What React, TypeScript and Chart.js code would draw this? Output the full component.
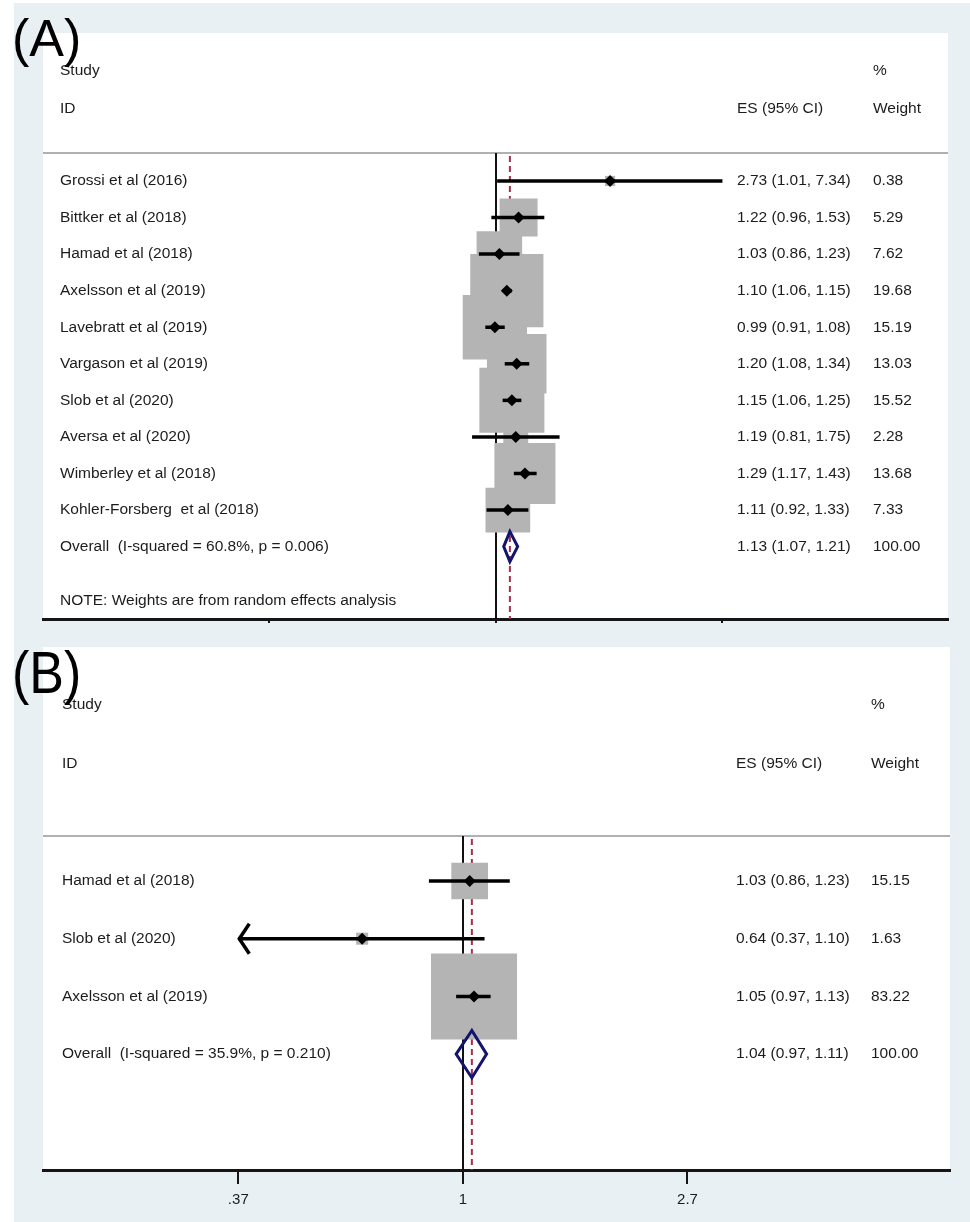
import React, { useEffect, useRef } from 'react';
import { Chart, registerables } from 'chart.js';
Chart.register(...registerables);

// ---------- Panel A data ----------
const studiesA = [
  'Grossi et al (2016)',
  'Bittker et al (2018)',
  'Hamad et al (2018)',
  'Axelsson et al (2019)',
  'Lavebratt et al (2019)',
  'Vargason et al (2019)',
  'Slob et al (2020)',
  'Aversa et al (2020)',
  'Wimberley et al (2018)',
  'Kohler-Forsberg  et al (2018)',
];
const esA = [2.73, 1.22, 1.03, 1.1, 0.99, 1.2, 1.15, 1.19, 1.29, 1.11];
const loA = [1.01, 0.96, 0.86, 1.06, 0.91, 1.08, 1.06, 0.81, 1.17, 0.92];
const hiA = [7.34, 1.53, 1.23, 1.15, 1.08, 1.34, 1.25, 1.75, 1.43, 1.33];
const weightA = [0.38, 5.29, 7.62, 19.68, 15.19, 13.03, 15.52, 2.28, 13.68, 7.33];
const arrowLeftA = [false, false, false, false, false, false, false, false, false, false];
const overallA = [1.13, 1.07, 1.21];
const overallLabelA = 'Overall  (I-squared = 60.8%, p = 0.006)';
const tickValuesA = [0.136, 1, 7.34];
const tickLabelsA = ['', '', ''];

// ---------- Panel B data ----------
const studiesB = ['Hamad et al (2018)', 'Slob et al (2020)', 'Axelsson et al (2019)'];
const esB = [1.03, 0.64, 1.05];
const loB = [0.86, 0.37, 0.97];
const hiB = [1.23, 1.1, 1.13];
const weightB = [15.15, 1.63, 83.22];
const arrowLeftB = [false, true, false];
const overallB = [1.04, 0.97, 1.11];
const overallLabelB = 'Overall  (I-squared = 35.9%, p = 0.210)';
const tickValuesB = [0.37, 1, 2.7];
const tickLabelsB = ['.37', '1', '2.7'];

const FONT = '"Liberation Sans", Arial, sans-serif';
const TEXT = '#1c1c1c';
const GRAY_BG = '#e9f0f3';
const SQUARE = '#b4b4b4';
const RED = '#a3304c';
const NAVY = '#14146e';

type PanelCfg = {
  height: number;
  grayTop: number;
  plot: { left: number; right: number; top: number; bottom: number };
  xMin: number;
  xMax: number;
  yMin: number;
  yMax: number;
  tickValues: number[];
  tickLabels: string[];
  showTickLabels: boolean;
  tickLength: number;
  tickPadding: number;
  sq: number;
  studies: string[];
  es: number[];
  lo: number[];
  hi: number[];
  weight: number[];
  arrowLeft: boolean[];
  overall: number[];
  overallLabel: string;
  note: string | null;
  noteY: number;
  headY1: number;
  headY2: number;
  sepY: number;
  colStudy: number;
  colES: number;
  colW: number;
  label: string;
  labelY: number;
  labelScaleY: number;
  fontSize: number;
};

function makeChart(canvas: HTMLCanvasElement, c: PanelCfg) {
  const n = c.studies.length;
  const plugin = {
    id: 'forest',
    beforeDraw(chart: any) {
      const ctx = chart.ctx;
      ctx.save();
      ctx.fillStyle = '#ffffff';
      ctx.fillRect(0, 0, chart.width, chart.height);
      ctx.fillStyle = GRAY_BG;
      ctx.fillRect(14, c.grayTop, chart.width - 14, chart.height - c.grayTop);
      ctx.fillStyle = '#ffffff';
      const a = chart.chartArea;
      ctx.fillRect(a.left, a.top, a.right - a.left, a.bottom - a.top);
      ctx.restore();
    },
    beforeDatasetsDraw(chart: any) {
      const ctx = chart.ctx;
      const xs = chart.scales.x;
      const ys = chart.scales.y;
      const a = chart.chartArea;
      ctx.save();
      // separator
      const sy = ys.getPixelForValue(c.sepY);
      ctx.strokeStyle = '#b0b0b0';
      ctx.lineWidth = 2;
      ctx.beginPath();
      ctx.moveTo(a.left, sy);
      ctx.lineTo(a.right, sy);
      ctx.stroke();
      // null line
      const nx = xs.getPixelForValue(1);
      ctx.strokeStyle = '#111';
      ctx.lineWidth = 2;
      ctx.beginPath();
      ctx.moveTo(nx, sy);
      ctx.lineTo(nx, a.bottom);
      ctx.stroke();
      // overall dashed line
      const ox = xs.getPixelForValue(c.overall[0]);
      ctx.strokeStyle = RED;
      ctx.lineWidth = 2;
      ctx.setLineDash([6, 4]);
      ctx.beginPath();
      ctx.moveTo(ox, sy + 3);
      ctx.lineTo(ox, a.bottom);
      ctx.stroke();
      ctx.setLineDash([]);
      // text
      ctx.fillStyle = TEXT;
      ctx.font = `${c.fontSize}px ${FONT}`;
      ctx.textBaseline = 'middle';
      ctx.textAlign = 'left';
      const h1 = ys.getPixelForValue(c.headY1);
      const h2 = ys.getPixelForValue(c.headY2);
      ctx.fillText('Study', c.colStudy, h1);
      ctx.fillText('ID', c.colStudy, h2);
      ctx.fillText('%', c.colW, h1);
      ctx.fillText('ES (95% CI)', c.colES, h2);
      ctx.fillText('Weight', c.colW, h2);
      for (let i = 0; i < n; i++) {
        const y = ys.getPixelForValue(i);
        ctx.fillText(c.studies[i], c.colStudy, y);
        ctx.fillText(
          `${c.es[i].toFixed(2)} (${c.lo[i].toFixed(2)}, ${c.hi[i].toFixed(2)})`,
          c.colES,
          y
        );
        ctx.fillText(c.weight[i].toFixed(2), c.colW, y);
      }
      const oy = ys.getPixelForValue(n);
      ctx.fillText(c.overallLabel, c.colStudy, oy);
      ctx.fillText(
        `${c.overall[0].toFixed(2)} (${c.overall[1].toFixed(2)}, ${c.overall[2].toFixed(2)})`,
        c.colES,
        oy
      );
      ctx.fillText('100.00', c.colW, oy);
      if (c.note) ctx.fillText(c.note, c.colStudy, ys.getPixelForValue(c.noteY));
      ctx.restore();
    },
    afterDatasetDraw(chart: any, args: any) {
      if (args.index !== 0) return;
      const ctx = chart.ctx;
      const xs = chart.scales.x;
      const ys = chart.scales.y;
      ctx.save();
      ctx.strokeStyle = '#000';
      ctx.lineWidth = 3.5;
      ctx.lineCap = 'butt';
      for (let i = 0; i < n; i++) {
        const y = ys.getPixelForValue(i);
        const x1 = xs.getPixelForValue(c.lo[i]);
        const x2 = xs.getPixelForValue(c.hi[i]);
        ctx.beginPath();
        ctx.moveTo(x1, y);
        ctx.lineTo(x2, y);
        ctx.stroke();
        if (c.arrowLeft[i]) {
          ctx.beginPath();
          ctx.moveTo(x1 + 11, y - 15);
          ctx.lineTo(x1 + 1, y);
          ctx.lineTo(x1 + 11, y + 15);
          ctx.stroke();
        }
      }
      ctx.restore();
    },
    afterDatasetsDraw(chart: any) {
      const ctx = chart.ctx;
      const xs = chart.scales.x;
      const ys = chart.scales.y;
      const y = ys.getPixelForValue(n);
      const yt = ys.getPixelForValue(n - 0.41);
      const yb = ys.getPixelForValue(n + 0.41);
      const xl = xs.getPixelForValue(c.overall[1]);
      const xm = xs.getPixelForValue(c.overall[0]);
      const xr = xs.getPixelForValue(c.overall[2]);
      ctx.save();
      ctx.strokeStyle = NAVY;
      ctx.lineWidth = 3;
      ctx.lineJoin = 'miter';
      ctx.beginPath();
      ctx.moveTo(xl, y);
      ctx.lineTo(xm, yt);
      ctx.lineTo(xr, y);
      ctx.lineTo(xm, yb);
      ctx.closePath();
      ctx.stroke();
      ctx.restore();
    },
    afterDraw(chart: any) {
      const ctx = chart.ctx;
      ctx.save();
      ctx.fillStyle = '#000';
      ctx.font = `52px ${FONT}`;
      ctx.textBaseline = 'alphabetic';
      ctx.textAlign = 'left';
      ctx.translate(12, c.labelY);
      ctx.scale(1, c.labelScaleY);
      ctx.fillText(c.label, 0, 0);
      ctx.restore();
    },
  };

  return new Chart(canvas, {
    type: 'scatter',
    data: {
      datasets: [
        {
          data: c.es.map((v, i) => ({ x: v, y: i })),
          pointStyle: 'rect',
          pointRadius: c.weight.map((w) => (c.sq * Math.sqrt(w)) / Math.SQRT2),
          backgroundColor: SQUARE,
          borderWidth: 0,
          order: 2,
          clip: false,
        } as any,
        {
          data: c.es.map((v, i) => ({ x: v, y: i })),
          pointStyle: 'rectRot',
          pointRadius: 6,
          backgroundColor: '#000',
          borderWidth: 0,
          order: 1,
          clip: false,
        } as any,
      ],
    },
    options: {
      responsive: false,
      animation: false,
      events: [],
      layout: {
        autoPadding: false,
        padding: {
          left: c.plot.left,
          right: 970 - c.plot.right,
          top: c.plot.top,
          bottom: 0,
        },
      },
      plugins: { legend: { display: false }, tooltip: { enabled: false } },
      scales: {
        x: {
          type: 'logarithmic',
          min: c.xMin,
          max: c.xMax,
          bounds: 'data',
          afterFit: (s: any) => {
            s.height = c.height - c.plot.bottom;
          },
          afterBuildTicks: (s: any) => {
            s.ticks = c.tickValues.map((v) => ({ value: v }));
          },
          border: { display: true, color: '#151515', width: 3 },
          grid: {
            display: true,
            drawOnChartArea: false,
            drawTicks: true,
            tickLength: c.tickLength,
            color: '#151515',
            lineWidth: 2,
          },
          ticks: {
            display: c.showTickLabels,
            autoSkip: false,
            maxRotation: 0,
            padding: c.tickPadding,
            color: TEXT,
            font: { family: FONT, size: 15 },
            callback: (_v: any, idx: number) => c.tickLabels[idx],
          },
        } as any,
        y: {
          type: 'linear',
          display: false,
          reverse: true,
          min: c.yMin,
          max: c.yMax,
          bounds: 'data',
        } as any,
      },
    },
    plugins: [plugin],
  } as any);
}

const cfgA: PanelCfg = {
  height: 634,
  grayTop: 3,
  plot: { left: 43, right: 948, top: 33, bottom: 619 },
  xMin: Math.exp((43 - 496) / 113.6),
  xMax: Math.exp((948 - 496) / 113.6),
  yMin: (33 - 181) / 36.56,
  yMax: (619 - 181) / 36.56,
  tickValues: tickValuesA,
  tickLabels: tickLabelsA,
  showTickLabels: false,
  tickLength: 4,
  tickPadding: 4,
  sq: 16.5,
  studies: studiesA,
  es: esA,
  lo: loA,
  hi: hiA,
  weight: weightA,
  arrowLeft: arrowLeftA,
  overall: overallA,
  overallLabel: overallLabelA,
  note: 'NOTE: Weights are from random effects analysis',
  noteY: 11.49,
  headY1: -3.01,
  headY2: -1.97,
  sepY: -0.766,
  colStudy: 60,
  colES: 737,
  colW: 873,
  label: '(A)',
  labelY: 56,
  labelScaleY: 1.0,
  fontSize: 15.5,
};

const cfgB: PanelCfg = {
  height: 588,
  grayTop: 0,
  plot: { left: 43, right: 950, top: 13, bottom: 536 },
  xMin: Math.exp((43 - 463) / 226),
  xMax: Math.exp((950 - 463) / 226),
  yMin: (13 - 247) / 57.7,
  yMax: (536 - 247) / 57.7,
  tickValues: tickValuesB,
  tickLabels: tickLabelsB,
  showTickLabels: true,
  tickLength: 14,
  tickPadding: 7,
  sq: 9.43,
  studies: studiesB,
  es: esB,
  lo: loB,
  hi: hiB,
  weight: weightB,
  arrowLeft: arrowLeftB,
  overall: overallB,
  overallLabel: overallLabelB,
  note: null,
  noteY: 0,
  headY1: -3.05,
  headY2: -2.03,
  sepY: -0.78,
  colStudy: 62,
  colES: 736,
  colW: 871,
  label: '(B)',
  labelY: 59,
  labelScaleY: 1.15,
  fontSize: 15.5,
};

export default function App() {
  const refA = useRef<HTMLCanvasElement>(null);
  const refB = useRef<HTMLCanvasElement>(null);
  useEffect(() => {
    document.body.style.margin = '0';
    const a = makeChart(refA.current!, cfgA);
    const b = makeChart(refB.current!, cfgB);
    return () => {
      a.destroy();
      b.destroy();
    };
  }, []);
  return (
    <div style={{ width: 970, height: 1222, background: '#fff' }}>
      <canvas ref={refA} width={970} height={634} style={{ display: 'block' }} />
      <canvas ref={refB} width={970} height={588} style={{ display: 'block' }} />
    </div>
  );
}
